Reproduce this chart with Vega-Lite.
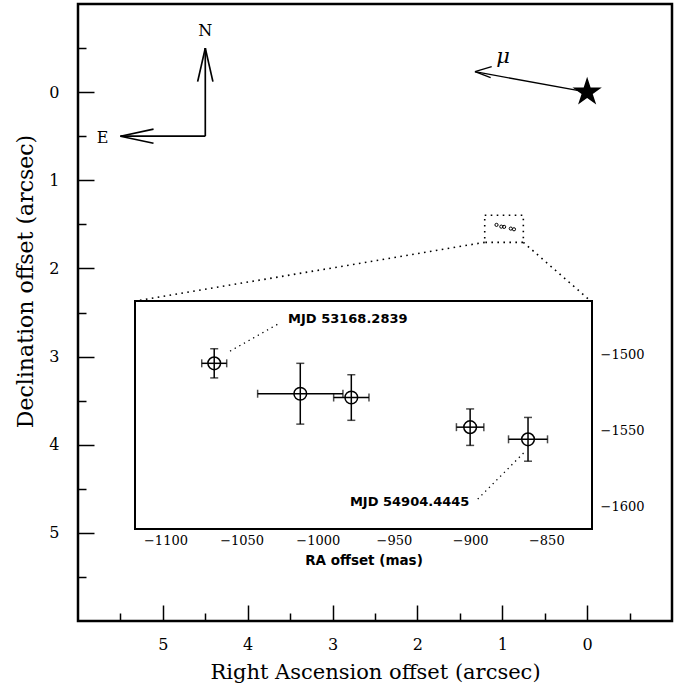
{
  "$schema": "https://vega.github.io/schema/vega-lite/v6.json",
  "width": 594,
  "height": 617,
  "autosize": {"type": "none"},
  "padding": {"left": 78, "top": 4, "right": 11, "bottom": 69},
  "background": "white",
  "config": {
    "view": {"stroke": "black", "strokeWidth": 2.5},
    "axis": {"grid": false, "domain": false, "tickColor": "black", "labelColor": "black", "titleColor": "black", "labelFlush": false, "labelOverlap": false, "titleFontWeight": "normal", "tickWidth": 1.5}
  },
  "datasets": {
    "astrometry": [
      {"ra": -1068, "dec": -1506, "era": 8.2, "edec": 9.6, "xa": 1.068, "ya": 1.506},
      {"ra": -1011.5, "dec": -1526, "era": 28, "edec": 20, "xa": 1.0115, "ya": 1.526},
      {"ra": -978, "dec": -1528.5, "era": 11.6, "edec": 15, "xa": 0.978, "ya": 1.5285},
      {"ra": -900, "dec": -1548, "era": 9, "edec": 12, "xa": 0.9, "ya": 1.548},
      {"ra": -862, "dec": -1556, "era": 12.8, "edec": 14.4, "xa": 0.862, "ya": 1.556}
    ],
    "compass": [
      {"x0": 4.5, "y0": 0.5, "x1": 4.5, "y1": -0.5},
      {"x0": 4.5, "y0": -0.5, "x1": 4.59, "y1": -0.12},
      {"x0": 4.5, "y0": -0.5, "x1": 4.41, "y1": -0.12},
      {"x0": 4.5, "y0": 0.5, "x1": 5.5, "y1": 0.5},
      {"x0": 5.5, "y0": 0.5, "x1": 5.11, "y1": 0.42},
      {"x0": 5.5, "y0": 0.5, "x1": 5.11, "y1": 0.58}
    ],
    "compassLabels": [
      {"x": 4.5, "y": -0.69, "label": "N"},
      {"x": 5.71, "y": 0.52, "label": "E"}
    ],
    "motion": [
      {"x0": 0, "y0": 0, "x1": 1.322, "y1": -0.232},
      {"x0": 1.322, "y0": -0.232, "x1": 1.125, "y1": -0.289},
      {"x0": 1.322, "y0": -0.232, "x1": 1.137, "y1": -0.164}
    ],
    "motionLabel": [{"x": 0.99, "y": -0.4, "label": "μ"}],
    "starPos": [{"x": 0, "y": 0}],
    "zoomBox": [{"x0": 1.207, "x1": 0.752, "y0": 1.397, "y1": 1.704}],
    "connectors": [
      {"x0": 1.207, "y0": 1.704, "x1": 5.328, "y1": 2.37},
      {"x0": 0.752, "y0": 1.704, "x1": -0.03, "y1": 2.36}
    ],
    "insetFrame": [{"x0": -1120, "x1": -820, "y0": -1615, "y1": -1465}],
    "leaders": [
      {"x0": -1057.6, "y0": -1498, "x1": -1025.3, "y1": -1479.7},
      {"x0": -895, "y0": -1595.3, "x1": -864.4, "y1": -1564.5}
    ],
    "epochs": [
      {"ra": -1019.5, "dec": -1477, "label": "MJD 53168.2839", "end": "first"},
      {"ra": -900.5, "dec": -1597, "label": "MJD 54904.4445", "end": "last"}
    ]
  },
  "layer": [
    {
      "layer": [
        {
          "data": {"name": "compass"},
          "mark": {"type": "rule", "color": "black", "strokeWidth": 1.7},
          "encoding": {
            "x": {"field": "x0", "type": "quantitative",
              "scale": {"domain": [-1, 6], "reverse": true, "nice": false, "zero": false},
              "axis": {"orient": "bottom", "values": [0, 1, 2, 3, 4, 5],
                "labelExpr": "format(datum.value, 'd')",
                "tickSize": -16,
                "labelPadding": 31, "labelFont": "DejaVu Serif", "labelFontSize": 16,
                "title": "Right Ascension offset (arcsec)", "titleFont": "DejaVu Serif", "titleFontSize": 21,
                "titleX": 297, "titleY": 51, "titleAlign": "center", "titleBaseline": "middle"}},
            "x2": {"field": "x1"},
            "y": {"field": "y0", "type": "quantitative",
              "scale": {"domain": [-1, 6], "reverse": true, "nice": false, "zero": false},
              "axis": {"orient": "left", "values": [0, 1, 2, 3, 4, 5],
                "labelExpr": "format(datum.value, 'd')",
                "tickSize": -16,
                "labelPadding": 35, "labelFont": "DejaVu Serif", "labelFontSize": 16,
                "title": "Declination offset (arcsec)", "titleFont": "DejaVu Serif", "titleFontSize": 22,
                "titleX": -53, "titleY": 277, "titleAngle": -90, "titleAlign": "center", "titleBaseline": "middle"}},
            "y2": {"field": "y1"}
          }
        },
        {
          "data": {"name": "compassLabels"},
          "mark": {"type": "text", "font": "DejaVu Serif", "fontSize": 16, "color": "black", "align": "center", "baseline": "middle"},
          "encoding": {
            "x": {"field": "x", "type": "quantitative",
              "axis": {"orient": "bottom", "values": [-0.5, 0.5, 1.5, 2.5, 3.5, 4.5, 5.5], "tickSize": -8, "labels": false, "title": null}},
            "y": {"field": "y", "type": "quantitative",
              "axis": {"orient": "left", "values": [-0.5, 0.5, 1.5, 2.5, 3.5, 4.5, 5.5], "tickSize": -8, "labels": false, "title": null}},
            "text": {"field": "label"}
          }
        },
        {
          "data": {"name": "motion"},
          "mark": {"type": "rule", "color": "black", "strokeWidth": 1.3},
          "encoding": {
            "x": {"field": "x0", "type": "quantitative", "axis": null},
            "x2": {"field": "x1"},
            "y": {"field": "y0", "type": "quantitative", "axis": null},
            "y2": {"field": "y1"}
          }
        },
        {
          "data": {"name": "motionLabel"},
          "mark": {"type": "text", "font": "DejaVu Serif", "fontStyle": "italic", "fontSize": 21, "color": "black", "align": "center", "baseline": "middle"},
          "encoding": {
            "x": {"field": "x", "type": "quantitative", "axis": null},
            "y": {"field": "y", "type": "quantitative", "axis": null},
            "text": {"field": "label"}
          }
        },
        {
          "data": {"name": "starPos"},
          "mark": {"type": "point", "shape": "M0,-1L0.2245,-0.309L0.951,-0.309L0.363,0.118L0.588,0.809L0,0.382L-0.588,0.809L-0.363,0.118L-0.951,-0.309L-0.2245,-0.309Z", "filled": true, "color": "black", "size": 950, "opacity": 1},
          "encoding": {
            "x": {"field": "x", "type": "quantitative", "axis": null},
            "y": {"field": "y", "type": "quantitative", "axis": null}
          }
        },
        {
          "data": {"name": "zoomBox"},
          "mark": {"type": "rect", "filled": false, "stroke": "black", "strokeWidth": 1.6, "strokeDash": [1.6, 4.4]},
          "encoding": {
            "x": {"field": "x0", "type": "quantitative", "axis": null},
            "x2": {"field": "x1"},
            "y": {"field": "y0", "type": "quantitative", "axis": null},
            "y2": {"field": "y1"}
          }
        },
        {
          "data": {"name": "connectors"},
          "mark": {"type": "rule", "color": "black", "strokeWidth": 1.6, "strokeDash": [1.6, 4.4]},
          "encoding": {
            "x": {"field": "x0", "type": "quantitative", "axis": null},
            "x2": {"field": "x1"},
            "y": {"field": "y0", "type": "quantitative", "axis": null},
            "y2": {"field": "y1"}
          }
        },
        {
          "data": {"name": "astrometry"},
          "mark": {"type": "point", "shape": "circle", "filled": false, "stroke": "black", "strokeWidth": 1, "size": 10, "opacity": 1},
          "encoding": {
            "x": {"field": "xa", "type": "quantitative", "axis": null},
            "y": {"field": "ya", "type": "quantitative", "axis": null}
          }
        }
      ],
      "resolve": {"axis": {"x": "independent", "y": "independent"}}
    },
    {
      "layer": [
        {
          "data": {"name": "insetFrame"},
          "mark": {"type": "rect", "fill": "white", "stroke": "black", "strokeWidth": 2},
          "encoding": {
            "x": {"field": "x0", "type": "quantitative",
              "scale": {"domain": [-1120, -820], "range": [57, 514], "nice": false, "zero": false},
              "axis": {"orient": "bottom", "offset": -92,
                "values": [-1100, -1050, -1000, -950, -900, -850],
                "labelExpr": "format(datum.value, 'd')",
                "tickSize": -9,
                "labelPadding": 14, "labelFont": "DejaVu Serif", "labelFontSize": 13,
                "title": "RA offset (mas)", "titleFont": "DejaVu Sans", "titleFontWeight": "bold", "titleFontSize": 13.5, "titlePadding": 6}},
            "x2": {"field": "x1"},
            "y": {"field": "y0", "type": "quantitative",
              "scale": {"domain": [-1615, -1465], "range": [525, 297], "nice": false, "zero": false},
              "axis": {"orient": "left", "offset": -57,
                "values": [-1600, -1550, -1500],
                "labels": false, "tickSize": -9, "title": null}},
            "y2": {"field": "y1"}
          }
        },
        {
          "data": {"name": "leaders"},
          "mark": {"type": "rule", "color": "black", "strokeWidth": 1.3, "strokeDash": [1.3, 4]},
          "encoding": {
            "x": {"field": "x0", "type": "quantitative",
              "axis": {"orient": "bottom", "offset": -92,
                "values": [-1075, -1025, -975, -925, -875, -825],
                "labels": false, "tickSize": -4.5, "title": null}},
            "x2": {"field": "x1"},
            "y": {"field": "y0", "type": "quantitative",
              "axis": {"orient": "right", "offset": -80,
                "values": [-1600, -1550, -1500],
                "labelExpr": "format(datum.value, 'd')",
                "tickSize": -9,
                "labelPadding": 17, "labelFont": "DejaVu Serif", "labelFontSize": 13, "labelAlign": "left",
                "title": null}},
            "y2": {"field": "y1"}
          }
        },
        {
          "data": {"name": "astrometry"},
          "mark": {"type": "errorbar", "ticks": {"size": 8, "thickness": 1.5, "color": "black"}, "thickness": 1.5, "color": "black"},
          "encoding": {
            "x": {"field": "ra", "type": "quantitative", "axis": null},
            "xError": {"field": "era"},
            "y": {"field": "dec", "type": "quantitative", "axis": null}
          }
        },
        {
          "data": {"name": "astrometry"},
          "mark": {"type": "errorbar", "ticks": {"size": 8, "thickness": 1.5, "color": "black"}, "thickness": 1.5, "color": "black"},
          "encoding": {
            "x": {"field": "ra", "type": "quantitative", "axis": null},
            "y": {"field": "dec", "type": "quantitative", "axis": null},
            "yError": {"field": "edec"}
          }
        },
        {
          "data": {"name": "astrometry"},
          "mark": {"type": "point", "shape": "circle", "filled": false, "stroke": "black", "strokeWidth": 1.5, "size": 160, "opacity": 1},
          "encoding": {
            "x": {"field": "ra", "type": "quantitative", "axis": null},
            "y": {"field": "dec", "type": "quantitative", "axis": null}
          }
        },
        {
          "data": {"name": "epochs"},
          "transform": [{"filter": "datum.end === 'first'"}],
          "mark": {"type": "text", "font": "DejaVu Sans", "fontWeight": "bold", "fontSize": 13, "color": "black", "align": "left", "baseline": "middle"},
          "encoding": {
            "x": {"field": "ra", "type": "quantitative", "axis": null},
            "y": {"field": "dec", "type": "quantitative",
              "axis": {"orient": "left", "offset": -57, "values": [-1575, -1525, -1475], "labels": false, "tickSize": -4.5, "title": null}},
            "text": {"field": "label"}
          }
        },
        {
          "data": {"name": "epochs"},
          "transform": [{"filter": "datum.end === 'last'"}],
          "mark": {"type": "text", "font": "DejaVu Sans", "fontWeight": "bold", "fontSize": 13, "color": "black", "align": "right", "baseline": "middle"},
          "encoding": {
            "x": {"field": "ra", "type": "quantitative", "axis": null},
            "y": {"field": "dec", "type": "quantitative",
              "axis": {"orient": "right", "offset": -80, "values": [-1575, -1525, -1475], "labels": false, "tickSize": -4.5, "title": null}},
            "text": {"field": "label"}
          }
        }
      ],
      "resolve": {"axis": {"x": "independent", "y": "independent"}}
    }
  ],
  "resolve": {"scale": {"x": "independent", "y": "independent"}}
}
